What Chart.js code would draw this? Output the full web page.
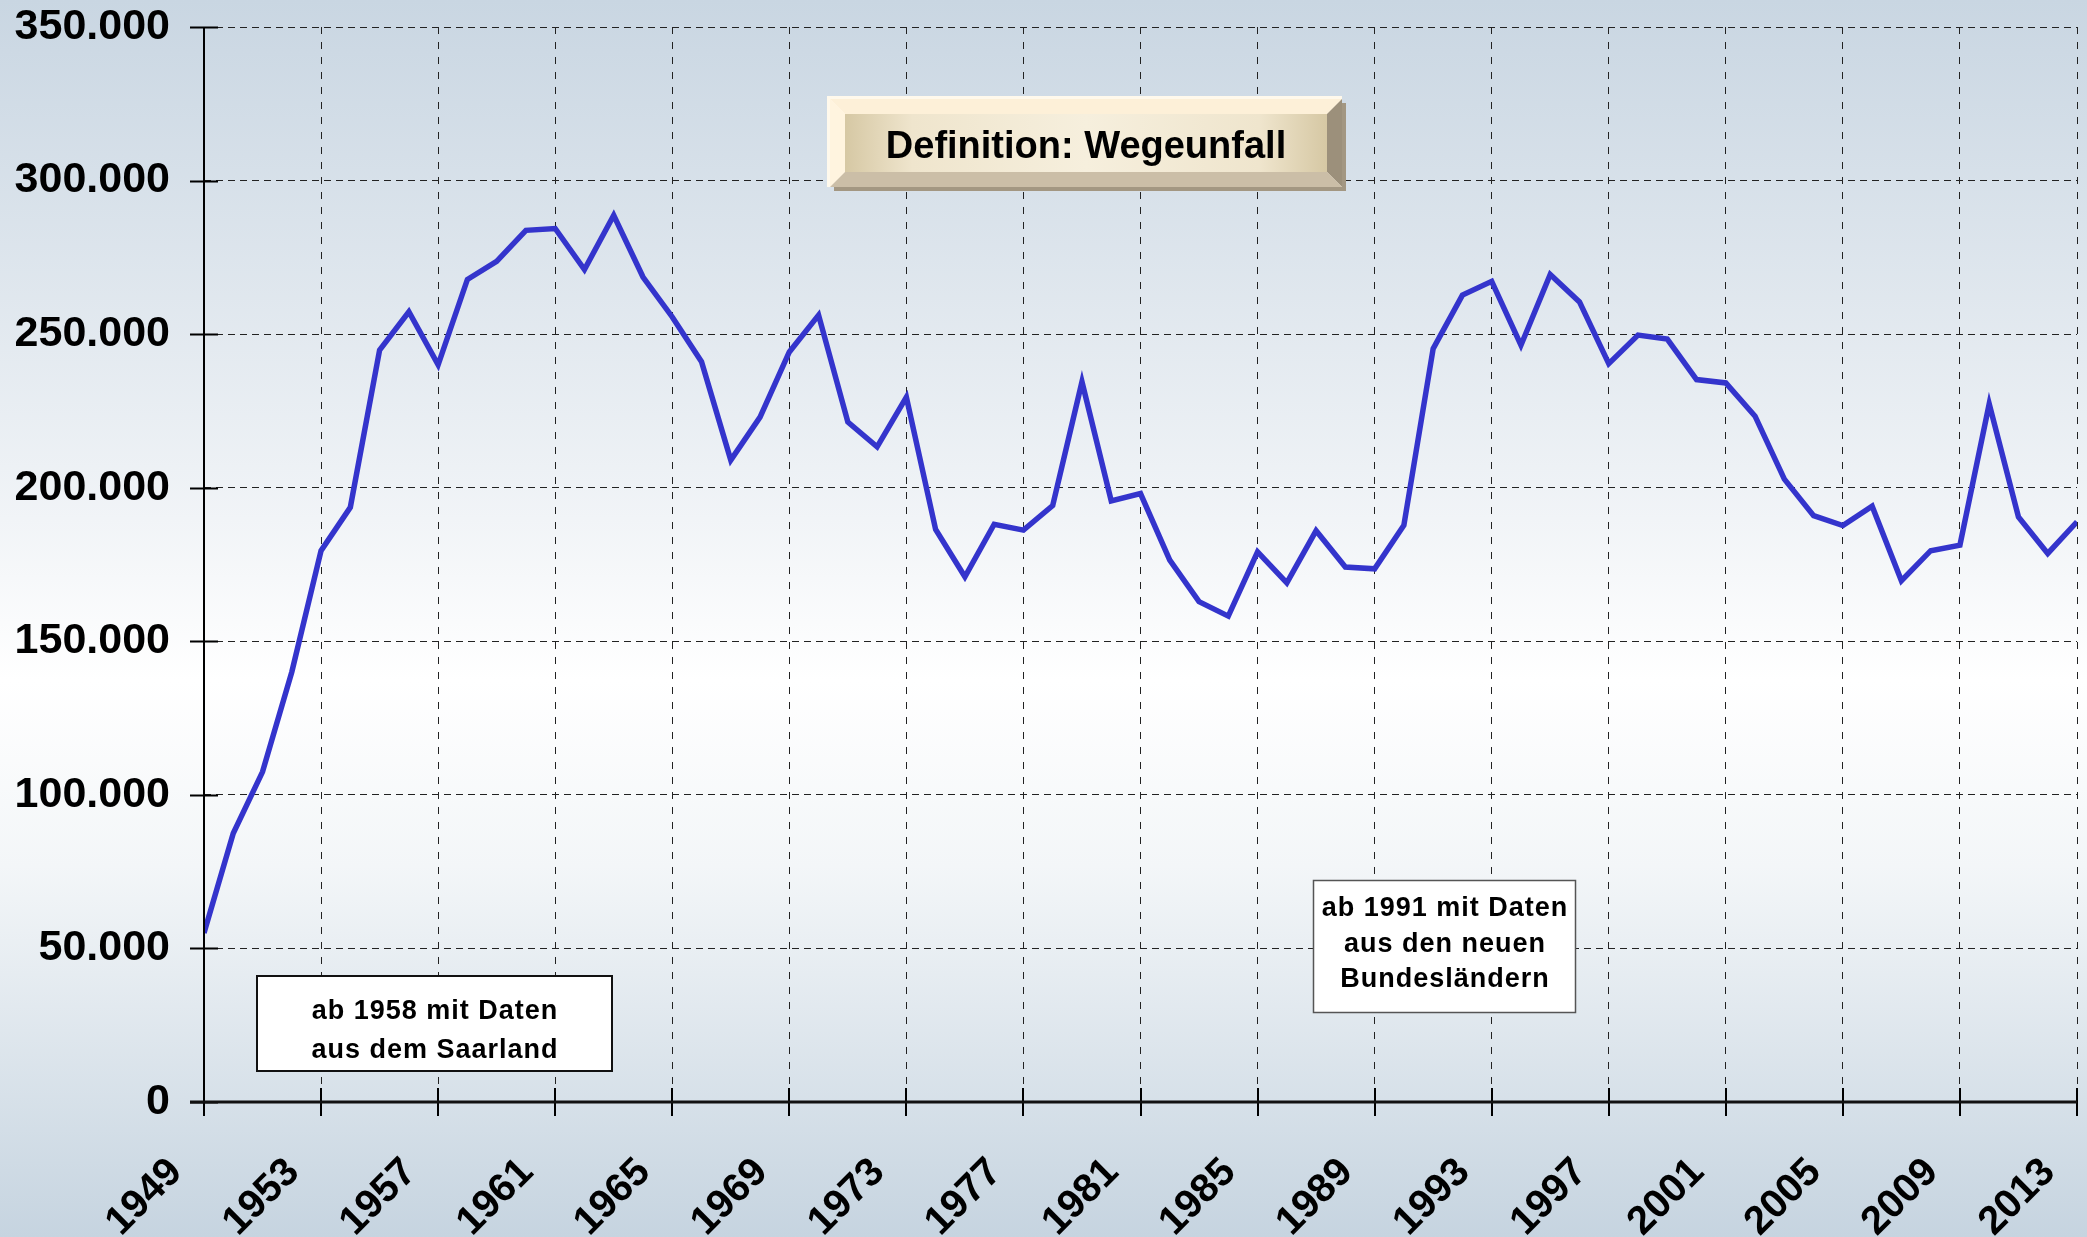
<!DOCTYPE html>
<html lang="de">
<head>
<meta charset="UTF-8">
<title>Wegeunfälle 1949–2013</title>
<script src="https://cdn.jsdelivr.net/npm/chart.js@4"></script>
<style>
  html, body { margin: 0; padding: 0; background: #fff; }
  #wrap { width: 2087px; height: 1237px; }
</style>
</head>
<body>
<div id="wrap"><canvas id="chart" width="2087" height="1237"></canvas></div>
<script>
// Jahre und Anzahl meldepflichtiger Wegeunfälle
const years = [
  1949, 1950, 1951, 1952, 1953, 1954, 1955, 1956, 1957, 1958,
  1959, 1960, 1961, 1962, 1963, 1964, 1965, 1966, 1967, 1968,
  1969, 1970, 1971, 1972, 1973, 1974, 1975, 1976, 1977, 1978,
  1979, 1980, 1981, 1982, 1983, 1984, 1985, 1986, 1987, 1988,
  1989, 1990, 1991, 1992, 1993, 1994, 1995, 1996, 1997, 1998,
  1999, 2000, 2001, 2002, 2003, 2004, 2005, 2006, 2007, 2008,
  2009, 2010, 2011, 2012, 2013
];
const accidents = [
  55000, 87500, 107500, 140000, 179500, 193600, 244800, 257300, 240000, 267800,
  273700, 283800, 284400, 271000, 288700, 268600, 255600, 241000, 209000, 223000,
  244200, 256200, 221400, 213300, 229500, 186400, 171000, 188100, 186200, 194200,
  234500, 195700, 198100, 176400, 162900, 158200, 179100, 169000, 186000, 174200,
  173600, 187800, 245300, 262700, 267200, 246400, 269400, 260500, 240400, 249700,
  248400, 235200, 234100, 223300, 202800, 190900, 187700, 194000, 169700, 179500,
  181300, 227300, 190500, 178600, 188900
];
const xTickYears = [1949, 1953, 1957, 1961, 1965, 1969, 1973, 1977, 1981, 1985, 1989, 1993, 1997, 2001, 2005, 2009, 2013];
const yTickValues = [0, 50000, 100000, 150000, 200000, 250000, 300000, 350000];
const yTickLabels = ['0', '50.000', '100.000', '150.000', '200.000', '250.000', '300.000', '350.000'];

const titleText = 'Definition: Wegeunfall';
const noteSaarland = ['ab 1958 mit Daten', 'aus dem Saarland'];
const noteNeueLaender = ['ab 1991 mit Daten', 'aus den neuen', 'Bundesländern'];

const FONT = '"Liberation Sans", Arial, Helvetica, sans-serif';

// Hintergrund, Achsen mit durchgehenden Strichen und die Textkästen
const decor = {
  id: 'decor',
  beforeDraw(chart) {
    const { ctx, width, height } = chart;
    const g = ctx.createLinearGradient(0, 0, 0, height);
    g.addColorStop(0, '#c9d6e2');
    g.addColorStop(0.42, '#f1f4f7');
    g.addColorStop(0.55, '#ffffff');
    g.addColorStop(0.7, '#f3f6f8');
    g.addColorStop(1, '#c6d4e0');
    ctx.save();
    ctx.fillStyle = g;
    ctx.fillRect(0, 0, width, height);
    ctx.restore();
  },
  afterDraw(chart) {
    const { ctx, chartArea: a, scales: { x, y } } = chart;
    ctx.save();

    // Achsen + Teilstriche (über die Achse hinweg)
    ctx.strokeStyle = '#000';
    ctx.lineWidth = 2;
    ctx.beginPath();
    ctx.moveTo(a.left, a.top);
    ctx.lineTo(a.left, a.bottom);
    y.ticks.forEach(t => {
      const py = Math.round(y.getPixelForValue(t.value)) + 0.5;
      ctx.moveTo(a.left - 14, py);
      ctx.lineTo(a.left + 14, py);
    });
    x.ticks.forEach(t => {
      const px = Math.round(x.getPixelForValue(t.value));
      ctx.moveTo(px, a.bottom - 14);
      ctx.lineTo(px, a.bottom + 14);
    });
    ctx.stroke();
    ctx.lineWidth = 3;
    ctx.strokeStyle = '#111';
    ctx.beginPath();
    ctx.moveTo(a.left - 14, a.bottom);
    ctx.lineTo(a.right, a.bottom);
    ctx.stroke();

    // Titel als erhabener Knopf
    const x0 = 830, y0 = 99, x1 = 1342, y1 = 187, b = 15;
    ctx.fillStyle = '#a39782';
    ctx.fillRect(x0 + 4, y0 + 4, x1 - x0, y1 - y0);
    ctx.fillStyle = '#fff9ec';
    ctx.fillRect(x0 - 3, y0 - 3, x1 - x0 + 3, y1 - y0 + 3);
    const poly = (pts, col) => {
      ctx.fillStyle = col;
      ctx.beginPath();
      ctx.moveTo(pts[0][0], pts[0][1]);
      pts.slice(1).forEach(p => ctx.lineTo(p[0], p[1]));
      ctx.closePath();
      ctx.fill();
    };
    poly([[x0, y0], [x1, y0], [x1 - b, y0 + b], [x0 + b, y0 + b]], '#fdf0d8');
    poly([[x0, y0], [x0 + b, y0 + b], [x0 + b, y1 - b], [x0, y1]], '#fff4df');
    poly([[x1, y0], [x1, y1], [x1 - b, y1 - b], [x1 - b, y0 + b]], '#9c907b');
    poly([[x0, y1], [x1, y1], [x1 - b, y1 - b], [x0 + b, y1 - b]], '#cbbea7');
    const fg = ctx.createLinearGradient(x0 + b, 0, x1 - b, 0);
    fg.addColorStop(0, '#d6c8a4');
    fg.addColorStop(0.14, '#efe5cd');
    fg.addColorStop(0.5, '#f6efdd');
    fg.addColorStop(0.86, '#efe5cd');
    fg.addColorStop(1, '#d6c8a4');
    ctx.fillStyle = fg;
    ctx.fillRect(x0 + b, y0 + b, x1 - x0 - 2 * b, y1 - y0 - 2 * b);
    ctx.fillStyle = '#000';
    ctx.font = 'bold 38px ' + FONT;
    ctx.textAlign = 'center';
    ctx.textBaseline = 'alphabetic';
    ctx.fillText(titleText, (x0 + x1) / 2, 158);

    // Hinweis Saarland
    ctx.fillStyle = '#fff';
    ctx.fillRect(257, 976, 355, 95);
    ctx.strokeStyle = '#111';
    ctx.lineWidth = 2;
    ctx.strokeRect(257, 976, 355, 95);
    ctx.fillStyle = '#000';
    ctx.font = 'bold 27px ' + FONT;
    ctx.letterSpacing = '1px';
    ctx.fillText(noteSaarland[0], 435, 1019);
    ctx.fillText(noteSaarland[1], 435, 1058);

    // Hinweis neue Bundesländer
    ctx.fillStyle = '#fff';
    ctx.fillRect(1313.5, 880.5, 262, 132);
    ctx.strokeStyle = '#555';
    ctx.lineWidth = 1.5;
    ctx.strokeRect(1313.5, 880.5, 262, 132);
    ctx.fillStyle = '#000';
    ctx.fillText(noteNeueLaender[0], 1445, 916);
    ctx.fillText(noteNeueLaender[1], 1445, 952);
    ctx.fillText(noteNeueLaender[2], 1445, 987);
    ctx.restore();
  }
};

new Chart(document.getElementById('chart'), {
  type: 'line',
  data: {
    datasets: [{
      label: 'Wegeunfälle',
      data: years.map((yr, i) => ({ x: yr, y: accidents[i] })),
      borderColor: '#3434cc',
      borderWidth: 5.5,
      pointRadius: 0,
      tension: 0,
      fill: false
    }]
  },
  options: {
    responsive: false,
    animation: false,
    layout: { padding: { top: 27, right: 10, left: 0, bottom: 0 } },
    plugins: { legend: { display: false }, tooltip: { enabled: false } },
    scales: {
      x: {
        type: 'linear',
        min: 1949,
        max: 2013,
        afterBuildTicks: s => { s.ticks = xTickYears.map(v => ({ value: v })); },
        afterFit: s => { s.height = 135; s.paddingLeft = 0; s.paddingRight = 0; },
        grid: { color: '#222', lineWidth: 1, drawTicks: false },
        border: { display: false, dash: [7, 8] },
        ticks: {
          autoSkip: false,
          minRotation: 45,
          maxRotation: 45,
          padding: 47,
          labelOffset: -28,
          color: '#000',
          font: { family: FONT, size: 40, weight: 'bold' },
          callback: v => String(v)
        }
      },
      y: {
        min: 0,
        max: 350000,
        afterBuildTicks: s => { s.ticks = yTickValues.map(v => ({ value: v })); },
        afterFit: s => { s.width = 204; s.paddingTop = 0; s.paddingBottom = 0; },
        grid: { color: '#222', lineWidth: 1, drawTicks: false },
        border: { display: false, dash: [7, 5] },
        ticks: {
          padding: 34,
          color: '#000',
          font: { family: FONT, size: 43, weight: 'bold' },
          callback: (v, i) => yTickLabels[i]
        }
      }
    }
  },
  plugins: [decor]
});
</script>
</body>
</html>
